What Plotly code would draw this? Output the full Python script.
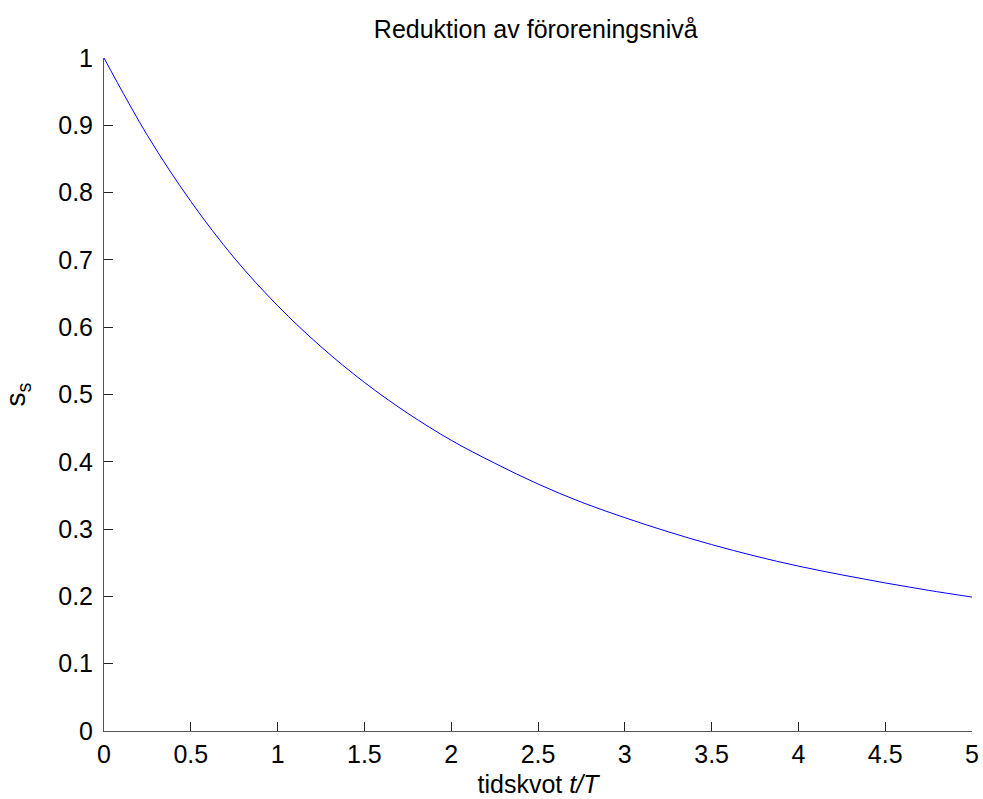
import plotly.graph_objects as go

# tidskvot t/T and reduced level s_s
t_ratio = [0, 0.25, 0.5, 0.75, 1.0, 1.25, 1.5, 1.75, 2.0, 2.25, 2.5, 2.75,
           3.0, 3.25, 3.5, 3.75, 4.0, 4.25, 4.5, 4.75, 5.0]
s_level = [1.0, 0.885, 0.787, 0.703, 0.632, 0.571, 0.518, 0.472, 0.432, 0.398,
           0.367, 0.340, 0.317, 0.296, 0.277, 0.260, 0.245, 0.232, 0.220, 0.209, 0.199]

x_ticks = [0, 0.5, 1, 1.5, 2, 2.5, 3, 3.5, 4, 4.5, 5]
y_ticks = [0, 0.1, 0.2, 0.3, 0.4, 0.5, 0.6, 0.7, 0.8, 0.9, 1]

fig = go.Figure()
fig.add_trace(go.Scatter(x=t_ratio, y=s_level, mode="lines",
    line=dict(color="#0000ff", width=1, shape="spline"), showlegend=False))

font = "Liberation Sans, Arial, sans-serif"
fig.update_layout(
    width=983, height=799,
    paper_bgcolor="white", plot_bgcolor="white",
    margin=dict(l=104, r=11, t=58, b=68),
    font=dict(family=font, color="black", size=24),
    title=dict(text="Reduktion av föroreningsnivå", x=0.545, xanchor="center",
               y=0.964, yanchor="middle", font=dict(size=25)),
)
axis_common = dict(showgrid=False, zeroline=False, showline=True, automargin=False,
    linecolor="#555555", linewidth=1, ticks="inside", ticklen=9,
    tickcolor="#222222", tickfont=dict(size=25), ticklabeloverflow="allow")
fig.update_xaxes(range=[0, 5], tickvals=x_ticks, ticktext=[f"{v:g}" for v in x_ticks],
    ticklabelstandoff=1,
    title=dict(text="tidskvot <i>t/T</i>", font=dict(size=25), standoff=8),
    **axis_common)
fig.update_yaxes(range=[0, 1], tickvals=y_ticks, ticktext=[f"{v:g}" for v in y_ticks],
    ticklabelstandoff=5,
    title=dict(text="s<sub>s</sub>", font=dict(size=28), standoff=28),
    **axis_common)

# drop the default page margin so the figure fills the window exactly
fig.write_html("out.html", config={"displayModeBar": False},
               post_script="document.body.style.margin='0';document.body.style.overflow='hidden';")
